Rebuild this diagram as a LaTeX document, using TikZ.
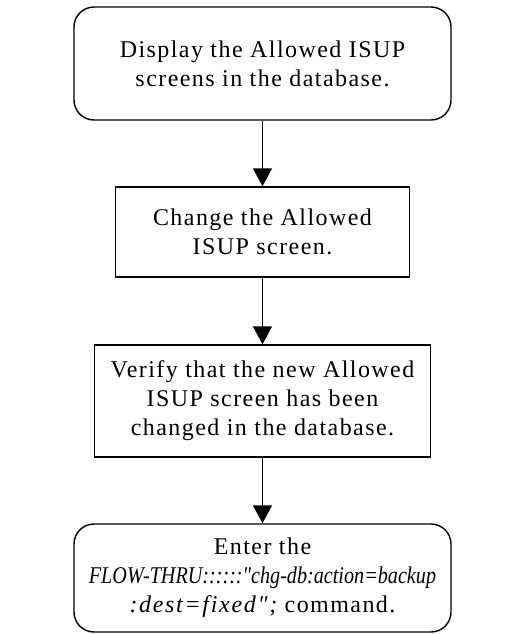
\documentclass[tikz,border=0pt]{standalone}
\usepackage{fontspec}
\setmainfont{Liberation Serif}[LetterSpace=6]
\newfontface\cmdfont{Liberation Serif Italic}[FakeStretch=0.84]
\newfontface\argfont{Liberation Serif Italic}[LetterSpace=7]
\usetikzlibrary{arrows.meta}

\begin{document}
\begin{tikzpicture}[
  x=1pt, y=-1pt,
  font=\fontsize{24}{29}\selectfont,
  stepbox/.style={draw, line width=1.4pt, align=center, inner sep=0pt},
  termbox/.style={stepbox, rounded corners=20pt},
  arrow/.style={-{Triangle[length=18pt,width=19pt]}, line width=1.4pt}
]
\useasboundingbox (0,0) rectangle (510,634);

\node[termbox, minimum width=377pt, minimum height=113pt] (disp) at (262.5,63.5)
  {Display the Allowed ISUP\\screens in the database.};
\node[stepbox, minimum width=294pt, minimum height=90pt] (chg) at (262.5,232)
  {Change the Allowed\\ISUP screen.};
\node[stepbox, minimum width=336pt, minimum height=112pt] (verify) at (262.5,401)
  {Verify that the new Allowed\\ISUP screen has been\\changed in the database.};
\node[termbox, minimum width=377pt, minimum height=108pt] (backup) at (262.5,578)
  {Enter the\\{\cmdfont FLOW-THRU::::::"chg-db:action=backup}\\{\argfont :dest=fixed";} command.};

\draw[arrow] (disp) -- (chg);
\draw[arrow] (chg) -- (verify);
\draw[arrow] (verify) -- (backup);

\end{tikzpicture}
\end{document}
